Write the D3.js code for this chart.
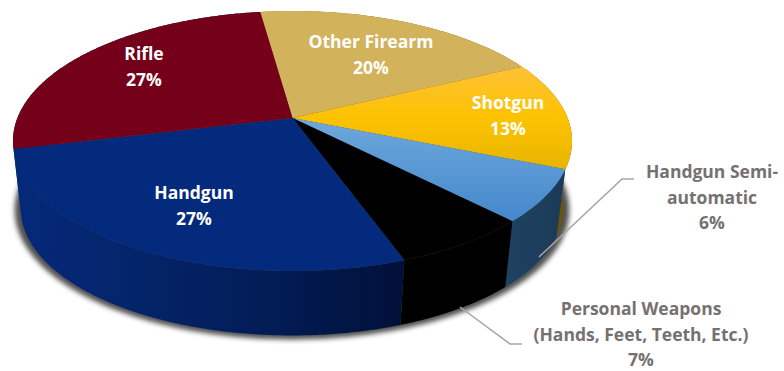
<!DOCTYPE html>
<html><head><meta charset="utf-8">
<script src="https://cdn.jsdelivr.net/npm/d3@7"></script>
<style>html,body{margin:0;padding:0;background:#fff;overflow:hidden}svg{display:block}
text{font-family:"Open Sans",sans-serif;font-weight:700;text-anchor:middle}</style>
</head><body><svg id="c" width="784" height="371"></svg>
<script>
const categories=["Other Firearm","Shotgun","Handgun Semi-automatic","Personal Weapons","Handgun","Rifle"];
const values=[19.96,13.45,6.49,6.8,26.7,26.6];
const labelLines=[["Other Firearm"],["Shotgun"],["Handgun Semi-","automatic"],["Personal Weapons","(Hands, Feet, Teeth, Etc.)"],["Handgun"],["Rifle"]];
const topColors=["#d2b25a",null,null,"#000000","#032a7c","#75001a"];
const topGrads=[null,["#fdc136","#fdc300","#e6b400"],["#6ea8dc","#4488cc"],null,null,null];
const sideGrads=[["#8a6d20","#6a5210"],["#7a6000","#6a5200"],["#1f4261","#1b3a58"],["#000","#000"],["#05287a","#042468","#021c55","#011038"],["#05287a","#05287a"]];
const labelPos=[[371,48],[508,109],[712,178],[641,315],[194,199],[144,60]];
const leaders=[null,null,[[539,257],[622,179],[634,179]],[[460,307],[510,344],[522,344]],null,null];
const startFrac=-0.022;

const W=784,H=371,CX=292.5,K=0.177,A=275.1,B=125.9,Y0=118;
const EY=141,S=0.97,SY=0.973,BX=292,BY=209;
const svg=d3.select("#c");
const defs=svg.append("defs");
const f=defs.append("filter").attr("id","sh").attr("x","-10%").attr("y","-10%").attr("width","120%").attr("height","120%");
f.append("feGaussianBlur").attr("stdDeviation",2.4);
function grad(id,stops,vertical){
  const g=defs.append("linearGradient").attr("id",id).attr("x1",0).attr("y1",0).attr("x2",vertical?0:1).attr("y2",vertical?1:0);
  stops.forEach((c,i)=>g.append("stop").attr("offset",i/(stops.length-1)).attr("stop-color",c));
}
const TAU=2*Math.PI, start=startFrac*TAU;
const pie=d3.pie().sort(null).startAngle(start).endAngle(start+TAU).value(d=>d);
const arcs=pie(values);
function proj(a,r=1){
  const u=r*Math.sin(a),v=-r*Math.cos(a),w=1-K*v;
  return [CX+A*u/w,Y0+B*v/w];
}
function low(p){return [BX+S*(p[0]-CX),BY+SY*(p[1]-EY)];}
const line=d3.line();
function samples(a0,a1){const n=Math.max(2,Math.ceil((a1-a0)/0.01));return d3.range(n+1).map(i=>a0+(a1-a0)*i/n);}

// shadow
const ring=samples(0,TAU).map(a=>low(proj(a,1.022)));
svg.append("path").attr("d",line(ring)+"Z").attr("fill","#303030").attr("opacity",.85)
  .attr("filter","url(#sh)");
// sides
arcs.forEach((d,i)=>{
  grad("s"+i,sideGrads[i],false);
  const pts=samples(d.startAngle,d.endAngle).map(a=>proj(a));
  const poly=pts.concat(pts.map(low).reverse());
  svg.append("path").attr("d",line(poly)+"Z").attr("fill",`url(#s${i})`);
});
// tops
arcs.forEach((d,i)=>{
  if(topGrads[i])grad("t"+i,topGrads[i],true);
  const pts=[proj(0,0)].concat(samples(d.startAngle,d.endAngle).map(a=>proj(a)));
  svg.append("path").attr("d",line(pts)+"Z").attr("fill",topGrads[i]?`url(#t${i})`:topColors[i]);
});
// leaders and labels
arcs.forEach((d,i)=>{
  if(leaders[i])svg.append("path").attr("d",line(leaders[i])).attr("fill","none").attr("stroke","#a6a6a6").attr("stroke-width",1.5);
  const outside=!!leaders[i],color=outside?"#767171":"#ffffff";
  const lines=labelLines[i].concat([d3.format(".0f")(values[i])+"%"]);
  const [x,y]=labelPos[i];
  const t=svg.append("text").attr("x",x).attr("y",y).attr("fill",color).attr("font-size",17.5);
  lines.forEach((s,j)=>t.append("tspan").attr("x",x).attr("y",y+j*25.6).text(s));
});
</script></body></html>
